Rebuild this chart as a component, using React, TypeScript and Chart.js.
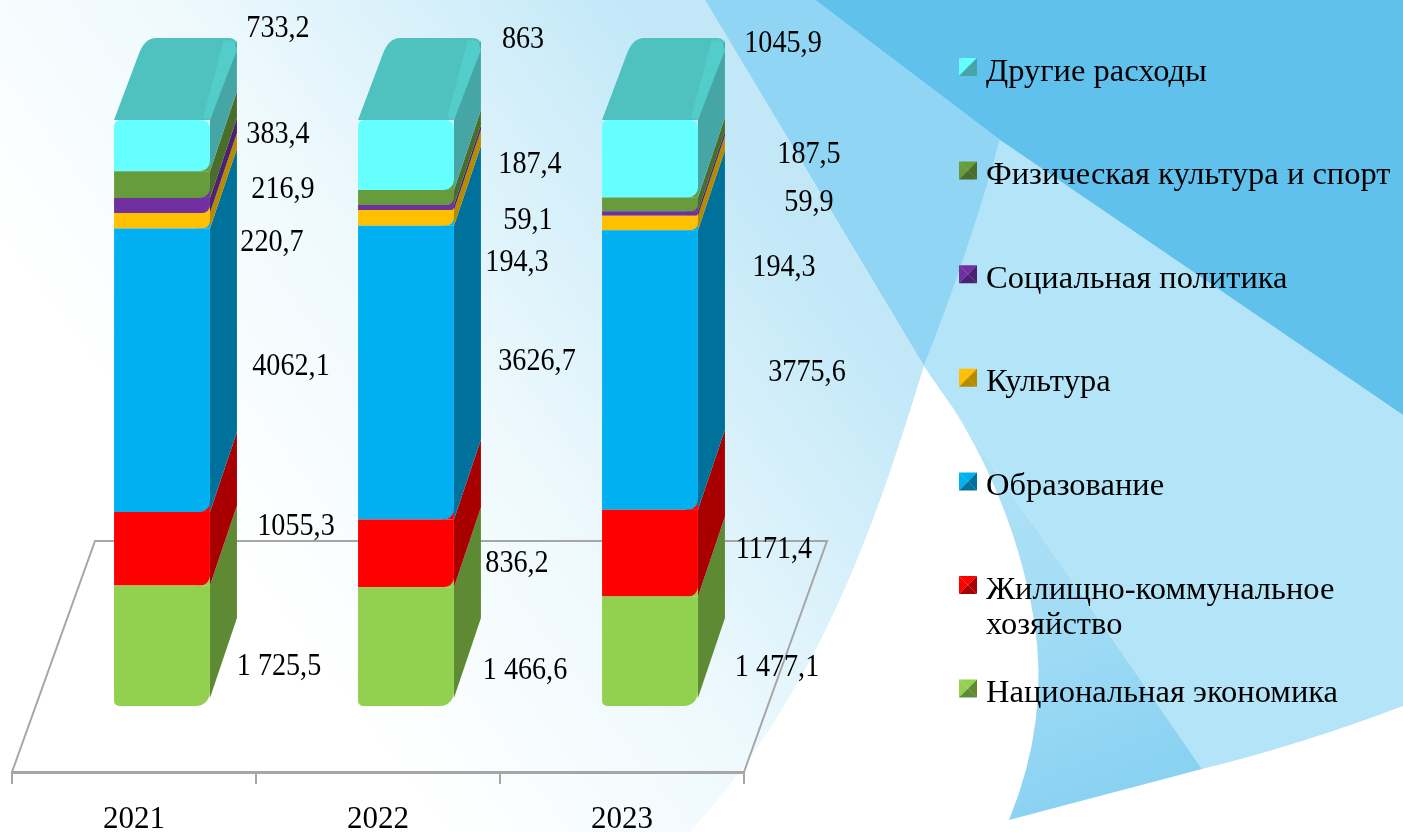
import React, { useEffect, useRef } from "react";
import { Chart, registerables } from "chart.js";

Chart.register(...registerables);

const years = ["2021", "2022", "2023"];
const seriesNames = [
  "Национальная экономика",
  "Жилищно-коммунальное хозяйство",
  "Образование",
  "Культура",
  "Социальная политика",
  "Физическая культура и спорт",
  "Другие расходы",
];
const economy = [1725.5, 1466.6, 1477.1];
const housing = [1055.3, 836.2, 1171.4];
const education = [4062.1, 3626.7, 3775.6];
const culture = [220.7, 194.3, 194.3];
const social = [216.9, 59.1, 59.9];
const sport = [383.4, 187.4, 187.5];
const other = [733.2, 863, 1045.9];
const allSeries = [economy, housing, education, culture, social, sport, other];

const economyText = ["1 725,5", "1 466,6", "1 477,1"];
const housingText = ["1055,3", "836,2", "1171,4"];
const educationText = ["4062,1", "3626,7", "3775,6"];
const cultureText = ["220,7", "194,3", "194,3"];
const socialText = ["216,9", "59,1", "59,9"];
const sportText = ["383,4", "187,4", "187,5"];
const otherText = ["733,2", "863", "1045,9"];
const allText = [economyText, housingText, educationText, cultureText, socialText, sportText, otherText];

const frontColors = ["#92d050", "#ff0000", "#00b0f0", "#ffc000", "#7030a0", "#669c3c", "#66ffff"];
const sideColors = ["#5f8a34", "#a80000", "#00719b", "#b88a00", "#4c2170", "#4b6d2a", "#46a6a6"];

// label offset from the middle of its segment, per series then per year
const labelOffsets: [number, number][][] = [
  [[117, 19], [119, 22], [127, 14]],
  [[134, -24], [111, 8], [124, -6]],
  [[129, -6], [131, -13], [157, 1]],
  [[110, 20], [111, 43], [134, 43]],
  [[121, -18], [122, 11], [159, -13]],
  [[116, -52], [124, -35], [159, -52]],
  [[116, -119], [117, -117], [133, -117]],
];

const totals = years.map((_, j) => allSeries.reduce((s, a) => s + a[j], 0));

const SERIF = '"Liberation Serif", "Times New Roman", serif';
const DEPTH_X = 27;
const DEPTH_Y = 80;
const SHIFT = 28; // bars stand mid-way across the floor

function drawBackground(ctx: CanvasRenderingContext2D) {
  ctx.save();
  ctx.fillStyle = "#ffffff";
  ctx.fillRect(0, 0, 1403, 832);

  const g = ctx.createLinearGradient(280, 620, 800, 230);
  g.addColorStop(0, "rgba(255,255,255,1)");
  g.addColorStop(0.45, "#eef9fd");
  g.addColorStop(1, "#c2e8f8");
  ctx.fillStyle = g;
  ctx.beginPath();
  ctx.moveTo(0, 0);
  ctx.lineTo(705, 0);
  ctx.lineTo(924, 366);
  ctx.bezierCurveTo(885, 490, 830, 680, 690, 832);
  ctx.lineTo(0, 832);
  ctx.closePath();
  ctx.fill();

  // pale right-hand panel
  ctx.fillStyle = "#b4e4f7";
  ctx.beginPath();
  ctx.moveTo(1000, 140);
  ctx.lineTo(1403, 415);
  ctx.lineTo(1403, 706);
  ctx.quadraticCurveTo(1300, 745, 1202, 769);
  ctx.lineTo(924, 366);
  ctx.quadraticCurveTo(970, 250, 1000, 140);
  ctx.closePath();
  ctx.fill();

  // middle tone, lower wedge
  const d = ctx.createLinearGradient(960, 420, 1110, 790);
  d.addColorStop(0, "#b4e4f7");
  d.addColorStop(0.55, "#a2dcf5");
  d.addColorStop(1, "#8ad2f2");
  ctx.fillStyle = d;
  ctx.beginPath();
  ctx.moveTo(924, 366);
  ctx.lineTo(1202, 769);
  ctx.lineTo(1009, 820);
  ctx.quadraticCurveTo(1050, 720, 1034, 620);
  ctx.quadraticCurveTo(1010, 480, 924, 366);
  ctx.closePath();
  ctx.fill();

  // middle tone, upper wedge
  ctx.fillStyle = "#90d5f3";
  ctx.beginPath();
  ctx.moveTo(705, 0);
  ctx.lineTo(815, 0);
  ctx.lineTo(1000, 140);
  ctx.quadraticCurveTo(970, 250, 924, 366);
  ctx.closePath();
  ctx.fill();

  // darkest corner
  ctx.fillStyle = "#60c1ed";
  ctx.beginPath();
  ctx.moveTo(815, 0);
  ctx.lineTo(1000, 140);
  ctx.lineTo(1403, 415);
  ctx.lineTo(1403, 0);
  ctx.closePath();
  ctx.fill();
  ctx.restore();
}

const scenePlugin = {
  id: "scene",
  beforeDraw(chart: any) {
    drawBackground(chart.ctx);
  },
  beforeDatasetsDraw(chart: any) {
    const { ctx, chartArea } = chart;
    const { left, right, bottom } = chartArea;
    const floorX = 83;
    const floorY = 231;
    // floor: the x axis draws the front edge
    ctx.save();
    ctx.strokeStyle = "#a6a6a6";
    ctx.lineWidth = 2;
    ctx.beginPath();
    ctx.moveTo(left, bottom);
    ctx.lineTo(left + floorX, bottom - floorY);
    ctx.lineTo(right + floorX, bottom - floorY);
    ctx.lineTo(right, bottom);
    ctx.stroke();
    ctx.restore();

    ctx.save();
    ctx.translate(SHIFT, 0);
    const n = chart.data.datasets.length;
    for (let j = 0; j < years.length; j++) {
      const topEl = chart.getDatasetMeta(n - 1).data[j];
      const l = topEl.x - topEl.width / 2;
      const r = topEl.x + topEl.width / 2;
      const t = topEl.y;

      // top face
      const backY = t - DEPTH_Y - 2;
      ctx.fillStyle = "#4fc2c0";
      ctx.beginPath();
      ctx.moveTo(l, t);
      ctx.lineTo(l + 24, backY + 18);
      ctx.quadraticCurveTo(l + 30, backY, l + 42, backY);
      ctx.lineTo(r + DEPTH_X - 8, backY);
      ctx.quadraticCurveTo(r + DEPTH_X, backY, r + DEPTH_X, backY + 8);
      ctx.lineTo(r, t);
      ctx.closePath();
      ctx.fill();

      // side faces
      for (let i = 0; i < n; i++) {
        const el = chart.getDatasetMeta(i).data[j];
        const yb = i === 0 ? el.base - 8 : el.base;
        const yt = el.y;
        ctx.fillStyle = sideColors[i];
        ctx.beginPath();
        ctx.moveTo(r, yb);
        ctx.lineTo(r + DEPTH_X, yb - DEPTH_Y);
        ctx.lineTo(r + DEPTH_X, yt - DEPTH_Y);
        ctx.lineTo(r, yt);
        ctx.closePath();
        ctx.fill();
        // what shows through the rounded corner of the segment above
        if (i > 0) {
          ctx.fillStyle = frontColors[i - 1];
          ctx.fillRect(r - 12, el.base - 12, 12, 12);
        }
      }

      // highlight along the top face
      ctx.fillStyle = "#52cdca";
      ctx.beginPath();
      ctx.moveTo(r - 7, t - 2);
      ctx.lineTo(r + DEPTH_X - 13, backY + 2);
      ctx.lineTo(r + DEPTH_X - 3, backY + 3);
      ctx.lineTo(r + DEPTH_X, backY + 12);
      ctx.lineTo(r, t);
      ctx.closePath();
      ctx.fill();
    }
    // front faces are the library's own bars, moved onto the floor
  },
  afterDatasetsDraw(chart: any) {
    const { ctx } = chart;
    ctx.restore();

    // value labels
    ctx.save();
    ctx.font = `32px ${SERIF}`;
    ctx.fillStyle = "#000000";
    ctx.textAlign = "center";
    ctx.textBaseline = "middle";
    chart.data.datasets.forEach((_: any, i: number) => {
      chart.getDatasetMeta(i).data.forEach((el: any, j: number) => {
        const [dx, dy] = labelOffsets[i][j];
        const text = allText[i][j];
        ctx.fillText(text, el.x + SHIFT + dx, (el.y + el.base) / 2 + dy + 2, ctx.measureText(text).width * 0.88);
      });
    });
    ctx.restore();

    // legend
    ctx.save();
    const legendLeft = 959;
    const box = 18;
    const textLeft = 986;
    const firstY = 72;
    const step = 103.6;
    const count = chart.data.datasets.length;
    ctx.font = `32.5px ${SERIF}`;
    ctx.textBaseline = "middle";
    ctx.textAlign = "left";
    for (let i = 0; i < count; i++) {
      const idx = count - 1 - i;
      const y = firstY + i * step;
      drawSwatch(ctx, legendLeft, y - 5 - box / 2, box, frontColors[idx], sideColors[idx]);
      ctx.fillStyle = "#000000";
      const label: string = chart.data.datasets[idx].label;
      if (label.startsWith("Жилищно")) {
        const cut = label.indexOf(" ");
        ctx.fillText(label.slice(0, cut), textLeft, y);
        ctx.fillText(label.slice(cut + 1), textLeft, y + 35);
      } else {
        ctx.fillText(label, textLeft, y);
      }
    }
    ctx.restore();
  },
};

function drawSwatch(ctx: CanvasRenderingContext2D, x: number, y: number, s: number, front: string, side: string) {
  const cx = x + s / 2;
  const cy = y + s / 2;
  const tri = (ax: number, ay: number, bx: number, by: number, color: string) => {
    ctx.fillStyle = color;
    ctx.beginPath();
    ctx.moveTo(ax, ay);
    ctx.lineTo(bx, by);
    ctx.lineTo(cx, cy);
    ctx.closePath();
    ctx.fill();
  };
  tri(x, y, x + s, y, front);
  tri(x, y, x, y + s, front);
  tri(x + s, y, x + s, y + s, side);
  tri(x, y + s, x + s, y + s, side);
}

export default function App() {
  const ref = useRef<HTMLCanvasElement | null>(null);
  useEffect(() => {
    const chart = new Chart(ref.current as HTMLCanvasElement, {
      type: "bar",
      data: {
        labels: years,
        datasets: allSeries.map((values, i) => ({
          label: seriesNames[i],
          data: values.map((v, j) => (v / totals[j]) * 100),
          backgroundColor: frontColors[i],
          borderWidth: 0,
          borderSkipped: false,
          barPercentage: 0.393,
          categoryPercentage: 1,
          borderRadius:
            i === 0
              ? { topLeft: 0, topRight: 0, bottomLeft: 5, bottomRight: 14 }
              : i === allSeries.length - 1
              ? { topLeft: 6, topRight: 8, bottomLeft: 0, bottomRight: 10 }
              : { topLeft: 0, topRight: 0, bottomLeft: 0, bottomRight: 10 },
        })),
      } as any,
      options: {
        animation: false,
        responsive: false,
        devicePixelRatio: 1,
        layout: { padding: { left: 12, right: 659, top: 120, bottom: 0 } },
        plugins: { legend: { display: false }, tooltip: { enabled: false }, title: { display: false } },
        scales: {
          x: {
            stacked: true,
            afterFit(scale: any) {
              scale.height = 60;
            },
            grid: {
              offset: true,
              drawOnChartArea: false,
              drawTicks: true,
              tickLength: 12,
              color: "#a6a6a6",
              lineWidth: 2,
            },
            border: { display: true, color: "#a6a6a6", width: 3 },
            ticks: {
              color: "#000000",
              padding: 20,
              maxRotation: 0,
              font: { family: SERIF, size: 31, lineHeight: 1 },
            },
          },
          y: { stacked: true, display: false, min: -11.26, max: 100 },
        },
      } as any,
      plugins: [scenePlugin as any],
    });
    return () => chart.destroy();
  }, []);
  return (
    <canvas
      ref={ref}
      width={1403}
      height={832}
      style={{ position: "absolute", left: 0, top: 0, display: "block", width: 1403, height: 832 }}
    />
  );
}
